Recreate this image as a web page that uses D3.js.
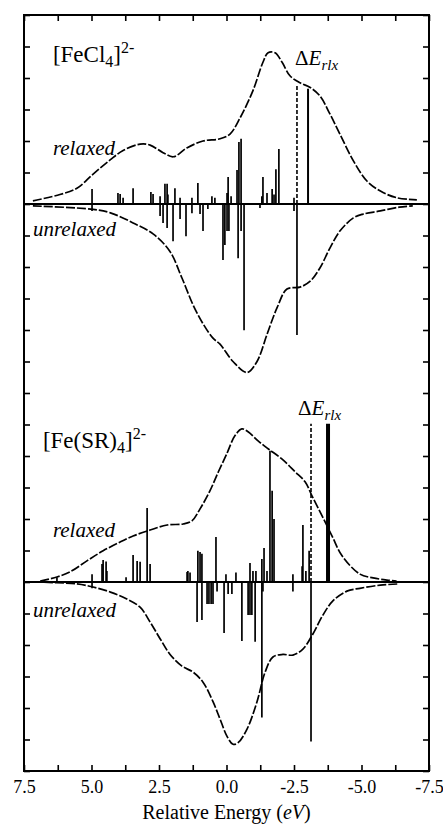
<!DOCTYPE html>
<html>
<head>
<meta charset="utf-8">
<script src="https://cdn.jsdelivr.net/npm/d3@7"></script>
<style>
  body { margin: 0; background: #fff; }
  text { font-family: "Liberation Serif", "DejaVu Serif", serif; fill: #000; }
</style>
</head>
<body>
<div id="chart"></div>
<script>
// energies in eV, intensities in arbitrary units (baseline = 0)
const xTicksMajor = [7.5, 5.0, 2.5, 0.0, -2.5, -5.0, -7.5];

// --- [FeCl4]2- panel ---
const relaxedCurveA = [[7.17,0.1],[6.17,0.3],[5.54,0.5],[4.94,0.95],[4.31,1.4],[3.83,1.7],[3.2,1.9],[2.83,1.87],[2.35,1.63],[1.97,1.5],[1.47,1.78],[0.87,2.0],[0.24,2.07],[-0.13,2.22],[-0.5,2.73],[-0.98,3.6],[-1.35,4.5],[-1.54,4.8],[-1.8,4.8],[-2.06,4.5],[-2.35,4.07],[-2.72,3.85],[-3.1,3.7],[-3.46,3.43],[-3.83,2.86],[-4.2,2.22],[-4.7,1.37],[-5.2,0.73],[-5.7,0.41],[-6.3,0.2],[-7.05,0.13]];
const unrelaxedCurveA = [[7.17,-0.06],[4.94,-0.17],[4.3,-0.28],[3.46,-0.6],[2.72,-0.95],[2.1,-1.5],[1.65,-2.35],[1.24,-3.2],[0.87,-3.8],[0.5,-4.26],[0.24,-4.45],[-0.24,-5.0],[-0.76,-5.35],[-1.13,-5.0],[-1.5,-4.14],[-1.87,-3.3],[-2.24,-2.7],[-2.72,-2.64],[-3.1,-2.45],[-3.46,-2.03],[-3.83,-1.4],[-4.2,-0.86],[-4.7,-0.44],[-5.06,-0.32],[-5.7,-0.22],[-6.4,-0.1],[-6.9,-0.06]];
const relaxedSticksA = [[4.98,0.48],[4.02,0.35],[3.94,0.32],[3.83,0.2],[3.46,0.5],[2.80,0.38],[2.72,0.32],[2.46,0.25],[2.28,0.64],[2.20,0.64],[2.17,0.3],[1.91,0.5],[1.72,0.2],[1.28,0.2],[1.06,0.67],[0.54,0.25],[0.43,0.2],[-0.02,0.35],[-0.06,0.86],[-0.17,0.25],[-0.39,1.08],[-0.46,1.97],[-0.54,2.07],[-1.31,0.25],[-1.35,0.86],[-1.5,0.35],[-1.69,0.48],[-1.76,0.3],[-1.83,1.1],[-1.94,1.75],[-2.5,0.2]];
const unrelaxedSticksA = [[4.98,-0.22],[2.46,-0.38],[2.35,-0.6],[2.2,-0.76],[1.98,-1.18],[1.72,-0.48],[1.5,-1.02],[1.28,-0.29],[0.98,-0.32],[0.87,-0.86],[0.69,-0.16],[0.13,-1.78],[0.06,-1.3],[-0.02,-0.86],[-0.09,-0.86],[-0.43,-1.72],[-0.54,-0.86],[-0.65,-4.01],[-1.24,-0.13],[-2.5,-0.22],[-2.61,-4.16]];
const relaxMarkA = [-3.02, 3.66];   // relaxed lowest transition (solid)
const unrelaxMarkA = [-2.61, 3.75]; // unrelaxed position (dashed)

// --- [Fe(SR)4]2- panel ---
const relaxedCurveB = [[6.9,0.03],[6.28,0.16],[5.8,0.32],[5.17,0.67],[4.57,0.99],[3.94,1.27],[3.46,1.46],[2.83,1.65],[2.2,1.81],[1.61,1.84],[1.28,1.94],[0.98,2.32],[0.61,2.9],[0.3,3.5],[0.0,4.05],[-0.31,4.64],[-0.57,4.86],[-0.8,4.77],[-1.17,4.48],[-1.54,4.23],[-2.06,3.9],[-2.54,3.5],[-2.91,3.18],[-3.17,2.73],[-3.54,2.1],[-3.91,1.46],[-4.28,0.83],[-4.94,0.25],[-5.43,0.13],[-5.94,0.06],[-6.3,0.03]];
const unrelaxedCurveB = [[7.17,0],[5.54,-0.06],[4.94,-0.16],[4.3,-0.32],[3.69,-0.54],[3.2,-0.8],[2.83,-1.27],[2.46,-1.8],[2.09,-2.3],[1.65,-2.67],[1.24,-2.86],[0.87,-3.18],[0.5,-3.8],[0.24,-4.35],[-0.02,-4.9],[-0.24,-5.15],[-0.43,-5.1],[-0.76,-4.67],[-1.13,-3.8],[-1.43,-2.86],[-1.72,-2.38],[-2.09,-2.3],[-2.46,-2.32],[-2.83,-2.13],[-3.2,-1.65],[-3.57,-1.05],[-3.94,-0.6],[-4.46,-0.29],[-4.94,-0.2],[-5.7,-0.1],[-6.4,-0.06]];
const relaxedSticksB = [[6.28,0.15],[4.98,0.25],[4.61,0.57],[4.57,0.7],[4.46,0.65],[4.43,0.35],[3.72,0.15],[3.46,0.86],[3.31,0.67],[3.2,0.64],[2.94,2.35],[2.83,0.57],[1.46,0.32],[1.43,0.35],[1.35,0.3],[1.06,0.99],[0.98,0.95],[0.91,0.9],[0.39,1.43],[0.02,0.25],[-0.35,0.3],[-0.87,0.6],[-0.98,0.35],[-1.09,0.35],[-1.31,0.73],[-1.39,1.08],[-1.5,0.35],[-1.61,4.17],[-1.69,2.9],[-1.76,2.0],[-2.46,0.25],[-2.80,0.5],[-2.83,1.81],[-2.94,0.35],[-3.06,0.99]];
const unrelaxedSticksB = [[4.98,-0.2],[1.09,-1.27],[0.91,-1.21],[0.72,-0.7],[0.65,-0.7],[0.57,-0.7],[0.5,-0.7],[0.35,-0.3],[0.09,-1.62],[-0.06,-0.38],[-0.2,-0.38],[-0.57,-1.87],[-0.8,-1.05],[-0.87,-1.05],[-0.94,-1.05],[-1.06,-1.9],[-1.31,-4.3],[-1.35,-0.3],[-2.46,-0.3],[-3.13,-5.06]];
const relaxMarkB = [-3.76, 5.02];
const unrelaxMarkB = [-3.13, 5.02];

const W = 443, H = 825;
const plotLeft = 24, plotRight = 429, plotTop = 15, plotMid = 393, plotBottom = 771;

const svg = d3.select("#chart").append("svg")
  .attr("width", W).attr("height", H);

const x = d3.scaleLinear().domain([7.5, -7.5]).range([plotLeft, plotRight]);
const yA = d3.scaleLinear().domain([6, -6]).range([plotTop, plotMid]);
const yB = d3.scaleLinear().domain([6, -6]).range([plotMid, plotBottom]);

function drawPanel(y, relCurve, unrelCurve, relSticks, unrelSticks, relaxMark, unrelaxMark, markWidth, showTopTick) {
  const g = svg.append("g");

  // y ticks on both sides, pointing inward
  const vals = d3.range(-6, 7).filter(v => showTopTick || v !== 6);
  g.append("g").attr("transform", `translate(${plotLeft},0)`)
    .call(d3.axisLeft(y).tickValues(vals).tickSize(-6).tickFormat(""))
    .call(s => s.select(".domain").remove());
  g.append("g").attr("transform", `translate(${plotRight},0)`)
    .call(d3.axisRight(y).tickValues(vals).tickSize(-6).tickFormat(""))
    .call(s => s.select(".domain").remove());
  g.selectAll(".tick line").attr("stroke-width", 1.6);

  // sticks
  g.selectAll(".rs").data(relSticks.concat(unrelSticks)).enter().append("line")
    .attr("x1", d => x(d[0])).attr("x2", d => x(d[0]))
    .attr("y1", y(0)).attr("y2", d => y(d[1]))
    .attr("stroke", "#000").attr("stroke-width", 1.7);

  // relaxed transition marker (solid) and unrelaxed position (dashed)
  g.append("line")
    .attr("x1", x(relaxMark[0])).attr("x2", x(relaxMark[0]))
    .attr("y1", y(0)).attr("y2", y(relaxMark[1]))
    .attr("stroke", "#000").attr("stroke-width", markWidth);
  g.append("line")
    .attr("x1", x(unrelaxMark[0])).attr("x2", x(unrelaxMark[0]))
    .attr("y1", y(0)).attr("y2", y(unrelaxMark[1]))
    .attr("stroke", "#000").attr("stroke-width", 1.6)
    .attr("stroke-dasharray", "4,2");

  // convoluted spectra
  const line = d3.line().x(d => x(d[0])).y(d => y(d[1])).curve(d3.curveCatmullRom);
  [relCurve, unrelCurve].forEach(c => {
    g.append("path").datum(c).attr("d", line)
      .attr("fill", "none").attr("stroke", "#000")
      .attr("stroke-width", 1.7).attr("stroke-dasharray", "9,2");
  });

  // baseline
  g.append("line").attr("x1", plotLeft).attr("x2", plotRight)
    .attr("y1", y(0)).attr("y2", y(0))
    .attr("stroke", "#000").attr("stroke-width", 2);
}

drawPanel(yA, relaxedCurveA, unrelaxedCurveA, relaxedSticksA, unrelaxedSticksA, relaxMarkA, unrelaxMarkA, 2, true);
drawPanel(yB, relaxedCurveB, unrelaxedCurveB, relaxedSticksB, unrelaxedSticksB, relaxMarkB, unrelaxMarkB, 4, false);

// x axes: bottom with labels, top ticks only
const xTicksAll = d3.range(0, 13).map(i => 7.5 - i * 1.25);
const xb = svg.append("g").attr("transform", `translate(0,${plotBottom})`)
  .call(d3.axisBottom(x).tickValues(xTicksAll).tickSize(-6).tickPadding(9)
    .tickFormat(d => xTicksMajor.includes(d) ? d.toFixed(1) : ""));
xb.select(".domain").remove();
xb.selectAll(".tick line").attr("stroke-width", 1.6);
xb.selectAll("text").style("font-size", "18px").style("font-family", "Liberation Serif");

const xt = svg.append("g").attr("transform", `translate(0,${plotTop})`)
  .call(d3.axisTop(x).tickValues(xTicksAll).tickSize(-6).tickFormat(""));
xt.select(".domain").remove();
xt.selectAll(".tick line").attr("stroke-width", 1.6);

// frame
svg.append("rect").attr("x", plotLeft).attr("y", plotTop)
  .attr("width", plotRight - plotLeft).attr("height", plotBottom - plotTop)
  .attr("fill", "none").attr("stroke", "#000").attr("stroke-width", 2);

// axis title
const title = svg.append("text").attr("x", (plotLeft + plotRight) / 2).attr("y", 819)
  .attr("text-anchor", "middle").style("font-size", "20px");
title.append("tspan").text("Relative Energy (");
title.append("tspan").style("font-style", "italic").text("eV");
title.append("tspan").text(")");

// panel annotations
function complexLabel(px, py, parts) {
  const t = svg.append("text").attr("x", px).attr("y", py).style("font-size", "23px");
  parts.forEach(p => {
    const s = t.append("tspan").text(p[0]);
    if (p[1] === "sub") s.attr("dy", 5).style("font-size", "16px");
    if (p[1] === "back") s.attr("dy", -5);
    if (p[1] === "sup") s.attr("dy", -9).style("font-size", "16px");
  });
}
complexLabel(x(6.43), yA(4.5), [["[FeCl"], ["4", "sub"], ["]", "back"], ["2-", "sup"]]);
complexLabel(x(6.8), yB(4.25), [["[Fe(SR)"], ["4", "sub"], ["]", "back"], ["2-", "sup"]]);

function italicLabel(px, py, s) {
  svg.append("text").attr("x", px).attr("y", py)
    .style("font-size", "21px").style("font-style", "italic").text(s);
}
italicLabel(x(6.43), yA(1.55), "relaxed");
italicLabel(x(7.17), yA(-1.0), "unrelaxed");
italicLabel(x(6.43), yB(1.43), "relaxed");
italicLabel(x(7.17), yB(-1.1), "unrelaxed");

function deltaLabel(px, py) {
  const t = svg.append("text").attr("x", px).attr("y", py).style("font-size", "21px");
  t.append("tspan").text("\u0394");
  t.append("tspan").style("font-style", "italic").text("E");
  t.append("tspan").attr("dy", 5).style("font-style", "italic").style("font-size", "15px").text("rlx");
}
deltaLabel(x(-2.54), yA(4.4));
deltaLabel(x(-2.65), yB(5.3));
</script>
</body>
</html>
